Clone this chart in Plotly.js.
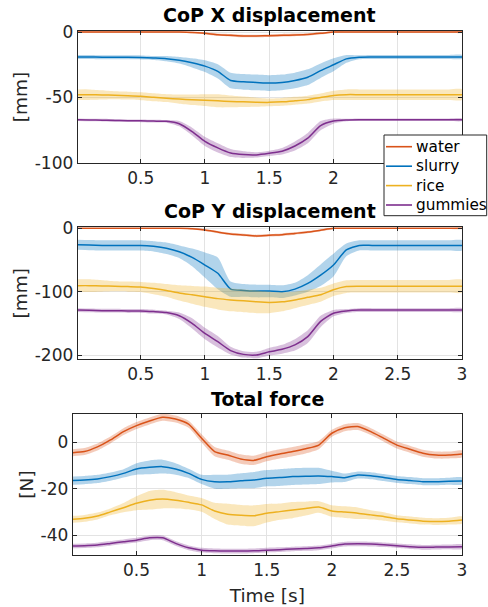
<!DOCTYPE html>
<html>
<head>
<meta charset="utf-8">
<script src="https://cdn.plot.ly/plotly-3.0.1.min.js"></script>
<style>html,body{margin:0;padding:0;background:#fff;}#chart{width:488px;height:607px;}</style>
</head>
<body>
<div id="chart"></div>
<script>
// ---------------- data ----------------
const time = [0.01,0.1,0.2,0.3,0.4,0.5,0.6,0.7,0.8,0.9,1.0,1.1,1.2,1.3,1.4,1.5,1.6,1.7,1.8,1.9,2.0,2.1,2.2,2.3,2.4,2.5,2.6,2.7,2.8,2.9,3.0];
const seriesNames = ['water','slurry','rice','gummies'];
const panelTitles = ['CoP X displacement','CoP Y displacement','Total force'];
const yUnits = ['[mm]','[mm]','[N]'];
const xTickVals = [0.5,1,1.5,2,2.5,3];
const xTickText = ['0.5','1','1.5','2','2.5','3'];
const yTickVals1 = [0,-50,-100];  const yTickText1 = ['0','-50','-100'];
const yTickVals2 = [0,-100,-200]; const yTickText2 = ['0','-100','-200'];
const yTickVals3 = [0,-20,-40];   const yTickText3 = ['0','-20','-40'];

// CoP X displacement (mean, band half-width)
const waterX    = [0,0,0,0,0,0,0,0,0,-0.3,-1,-2,-2.5,-3,-3,-2.8,-2.5,-2.2,-1.8,-1,0,0,0,0,0,0,0,0,0,0,0];
const waterXsd  = [0.6,0.6,0.6,0.6,0.6,0.6,0.6,0.6,0.6,0.7,0.8,0.9,1,1,1,1,1,1,0.9,0.8,0.7,0.6,0.6,0.6,0.6,0.6,0.6,0.6,0.6,0.6,0.6];
const slurryX   = [-19,-19,-19.2,-19.3,-19.3,-19.4,-19.8,-20.3,-21.5,-23.5,-26,-30,-37,-38,-38.5,-39,-38.5,-37,-34.5,-29.5,-25,-20.5,-19.2,-19,-19,-19,-19,-19,-19,-19,-19];
const slurryXsd = [1.5,1.5,1.5,1.5,1.5,1.5,1.5,2,2.5,3.5,4.5,5.5,6,6,6,6,6,6,6,5.5,5,3,1.5,1.5,1.5,1.5,1.5,1.5,1.5,1.5,1.5];
const riceX     = [-47.8,-47.8,-48,-48.3,-48.6,-49,-49.8,-50.5,-51.2,-51.7,-52,-52.5,-53,-53.3,-53.6,-53.7,-53.3,-52.5,-51.6,-50,-48.4,-47.8,-47.8,-47.8,-47.8,-47.8,-47.8,-47.8,-47.8,-47.8,-47.8];
const riceXsd   = [4,4,3.5,3,3,3,3,3,3.5,4,4.5,5,4.5,4,3.5,3,3,3,3,3,3.5,4,4,4,4,4,4,4,4,4,4];
const gumX      = [-67,-67.2,-67.3,-67.5,-67.7,-67.8,-68,-68.2,-70,-76,-83.5,-88.5,-92.4,-93.6,-93.8,-92.6,-91,-87,-81,-71.5,-68,-67.2,-67,-67,-67,-67,-67,-67,-67,-67,-67];
const gumXsd    = [1,1,1,1,1,1,1,1,2,3,3.5,3.5,3,2.5,2,2,2.5,3.5,4,3.5,2,1,1,1,1,1,1,1,1,1,1];

// CoP Y displacement
const waterY    = [0,0,0,0,0,0,0,0,0,-0.5,-2.6,-6,-9,-10.5,-12,-11,-10,-8,-6,-3,0,0,0,0,0,0,0,0,0,0,0];
const waterYsd  = [1.2,1.2,1.2,1.2,1.2,1.2,1.2,1.2,1.2,1.4,1.6,1.8,2,2,2,2,2,2,1.8,1.6,1.4,1.2,1.2,1.2,1.2,1.2,1.2,1.2,1.2,1.2,1.2];
const slurryY   = [-26,-26.5,-27,-27,-27,-27,-28.5,-31.5,-37,-46,-58,-71,-96,-98,-99,-99,-100,-96,-87,-74,-58,-34,-27,-27,-27,-27,-27,-27,-27,-27,-27];
const slurryYsd = [8,8,8,8,8,8,8,9,10,14,20,25,12,10,10,10,10,10,13,17,18,10,8,8,8,8,8,8,8,8,8];
const riceY     = [-90.5,-90.5,-91,-91.5,-92,-92.6,-95,-98,-102,-105,-108,-111,-113,-114.5,-116,-117,-116,-113,-109,-105,-97,-92,-91.5,-91.5,-91.5,-91.5,-91.5,-91.5,-91.5,-91.5,-91.5];
const riceYsd   = [10,10,9,8,8,8,9,10,12,14,16,17,18,18,18,17,15,13,12,11,10,10,10,10,10,10,10,10,10,10,10];
const gumY      = [-129,-129.5,-130,-130,-130.5,-130.5,-131.5,-133,-138,-150,-166,-179,-193,-199,-200,-195,-191,-184,-171,-147,-134,-130.5,-129,-129,-129,-129,-129,-129,-129,-129,-129];
const gumYsd    = [3,3,3,3,3,3,3,3,5,8,9,9,6,5,5,6,7,9,10,9,5,3,3,3,3,3,3,3,3,3,3];

// Total force
const waterF    = [-4.5,-4,-2,1,4.6,7.2,9.2,10.8,10,7.8,1.7,-4,-5.5,-7.2,-7.8,-6.2,-5,-4,-2.8,-1.2,3.9,6.3,6.8,4.6,1.7,-1.2,-3,-4.7,-5.5,-5.5,-5];
const waterFsd  = [1.5,1.5,1.5,1.5,1.5,1.5,1.5,1.5,1.5,1.5,1.8,2,2,2,2,2,2,2,2,1.8,1.5,1.5,1.5,1.5,1.5,1.5,1.5,1.5,1.5,1.5,1.5];
const slurryF   = [-16.5,-16.3,-15.8,-14.8,-13.4,-11.5,-10.8,-10.5,-11.5,-13.4,-16,-17,-17,-16.6,-16.3,-15.5,-15.2,-14.8,-14.6,-14.5,-14.8,-15.3,-14.1,-14.4,-15.2,-16,-16.5,-17,-17,-16.8,-16.7];
const slurryFsd = [1.8,1.8,1.8,1.8,1.8,2.5,3,3,2.5,2,2,3,3,3.2,3.5,3.5,3.6,3.6,3.6,3.5,2.5,1.8,1.5,1.5,1.5,1.5,1.5,1.5,1.5,1.5,1.5];
const riceF     = [-33.2,-32.8,-31.8,-30,-28.2,-26.3,-25,-24.5,-25,-25.9,-27,-29.6,-31,-31.5,-31.7,-30.6,-29.9,-29.2,-28.6,-27.9,-29.6,-30.1,-30.6,-31.3,-32,-33,-33.5,-34,-34.2,-34,-33.5];
const riceFsd   = [1.5,1.5,1.5,1.5,2,3,4,4,3.5,3,3,3.5,4.5,4.5,4.5,4,3.5,3.5,3,2.5,2.5,2.5,2.5,2,1.8,1.5,1.5,1.5,1.5,1.5,1.5];
const gumF      = [-44.7,-44.6,-44.3,-43.6,-42.9,-42.2,-41.2,-41.2,-43.6,-45.5,-46.5,-46.8,-46.9,-46.9,-46.8,-46.5,-46.3,-46,-45.8,-45.5,-44.7,-43.9,-43.8,-43.9,-44.2,-44.6,-45,-45.3,-45.2,-45.1,-45];
const gumFsd    = [1,1,1,1,1,1,1,1,1,1,1,1,1,1,1,1,1,1,1,1,1,1,1,1,1,1,1,1,1,1,1];

// ---------------- styling ----------------
const lineColors = ['#D95319','#0072BD','#EDB120','#7E2F8E'];
const bandColors = ['rgba(217,83,25,0.3)','rgba(0,114,189,0.3)','rgba(237,177,32,0.3)','rgba(126,47,142,0.3)'];
const FONT = 'DejaVu Sans, sans-serif';
const AX = '#262626';

const panels = [
  {means:[waterX,slurryX,riceX,gumX], sds:[waterXsd,slurryXsd,riceXsd,gumXsd]},
  {means:[waterY,slurryY,riceY,gumY], sds:[waterYsd,slurryYsd,riceYsd,gumYsd]},
  {means:[waterF,slurryF,riceF,gumF], sds:[waterFsd,slurryFsd,riceFsd,gumFsd]}
];

const traces = [];
panels.forEach((p, pi) => {
  const xa = pi === 0 ? 'x' : 'x' + (pi + 1);
  const ya = pi === 0 ? 'y' : 'y' + (pi + 1);
  p.means.forEach((m, si) => {
    const sd = p.sds[si];
    const upper = m.map((v, k) => v + sd[k]);
    const lower = m.map((v, k) => v - sd[k]);
    traces.push({
      x: time.concat(time.slice().reverse()),
      y: upper.concat(lower.slice().reverse()),
      type: 'scatter', mode: 'lines', fill: 'toself',
      fillcolor: bandColors[si], line: {width: 0, shape: 'spline', smoothing: 0.6},
      hoverinfo: 'skip', showlegend: false, xaxis: xa, yaxis: ya
    });
    traces.push({
      x: time, y: m, type: 'scatter', mode: 'lines', name: seriesNames[si],
      line: {color: lineColors[si], width: 1.5, shape: 'spline', smoothing: 0.6},
      showlegend: false, xaxis: xa, yaxis: ya
    });
  });
});

const W = 488, H = 607;
function px2x(px){ return px / W; }
function px2y(py){ return 1 - py / H; }

function xaxisDef(domain, showTitle){
  const d = {
    domain: domain, range: [0.01, 3],
    tickvals: xTickVals, ticktext: xTickText,
    ticks: 'inside', ticklen: 4, tickcolor: AX, tickwidth: 1,
    showline: true, linecolor: AX, linewidth: 1, mirror: 'ticks',
    showgrid: true, gridcolor: '#e3e3e3', gridwidth: 1, zeroline: false,
    tickfont: {family: FONT, size: 17, color: AX}, fixedrange: true, automargin: false
  };
  if (showTitle) d.title = {text: 'Time [s]', font: {family: FONT, size: 18.5, color: AX}, standoff: 9};
  return d;
}
function yaxisDef(domain, range, tv, tt, unit){
  return {
    domain: domain, range: range,
    tickvals: tv, ticktext: tt,
    ticks: 'inside', ticklen: 4, tickcolor: AX, tickwidth: 1,
    showline: true, linecolor: AX, linewidth: 1, mirror: 'ticks',
    showgrid: true, gridcolor: '#e3e3e3', gridwidth: 1, zeroline: false,
    tickfont: {family: FONT, size: 17, color: AX}, fixedrange: true, automargin: false,
    title: {text: unit, font: {family: FONT, size: 18.5, color: AX}, standoff: 2}
  };
}

const xd12 = [px2x(77.7), px2x(462)];
const xd3  = [px2x(72.7), px2x(462)];
const yd1 = [px2y(163), px2y(31)];
const yd2 = [px2y(359), px2y(227.3)];
const yd3 = [px2y(555), px2y(414)];

// legend (box, sample lines, labels) placed in paper coordinates
const legBox = {x0: 384, x1: 486.7, y0: 135, y1: 215.7};
const legRowY = [146.7, 166.2, 185.6, 205];
const shapes = [{
  type: 'rect', xref: 'paper', yref: 'paper', layer: 'above',
  x0: px2x(legBox.x0), x1: px2x(legBox.x1), y0: px2y(legBox.y1), y1: px2y(legBox.y0),
  fillcolor: '#fff', line: {color: AX, width: 1}
}];
const annotations = [
  {text: '<b>' + panelTitles[0] + '</b>', xref: 'paper', yref: 'paper', x: (xd12[0]+xd12[1])/2, y: px2y(15), xanchor: 'center', yanchor: 'middle', showarrow: false, font: {family: FONT, size: 19, color: '#000'}},
  {text: '<b>' + panelTitles[1] + '</b>', xref: 'paper', yref: 'paper', x: (xd12[0]+xd12[1])/2, y: px2y(211), xanchor: 'center', yanchor: 'middle', showarrow: false, font: {family: FONT, size: 19, color: '#000'}},
  {text: '<b>' + panelTitles[2] + '</b>', xref: 'paper', yref: 'paper', x: (xd3[0]+xd3[1])/2, y: px2y(399), xanchor: 'center', yanchor: 'middle', showarrow: false, font: {family: FONT, size: 19, color: '#000'}}
];
seriesNames.forEach((name, si) => {
  shapes.push({
    type: 'line', xref: 'paper', yref: 'paper', layer: 'above',
    x0: px2x(386), x1: px2x(412), y0: px2y(legRowY[si]), y1: px2y(legRowY[si]),
    line: {color: lineColors[si], width: 1.6}
  });
  annotations.push({
    text: name, xref: 'paper', yref: 'paper', x: px2x(414), y: px2y(legRowY[si]),
    xanchor: 'left', yanchor: 'middle', showarrow: false,
    font: {family: FONT, size: 15.3, color: '#000'}
  });
});

const layout = {
  width: W, height: H,
  margin: {l: 0, r: 0, t: 0, b: 0},
  paper_bgcolor: '#fff', plot_bgcolor: '#fff',
  font: {family: FONT, color: AX},
  showlegend: false,
  xaxis:  Object.assign(xaxisDef(xd12, false), {anchor: 'y'}),
  yaxis:  Object.assign(yaxisDef(yd1, [-100, 0.8], yTickVals1, yTickText1, yUnits[0]), {anchor: 'x'}),
  xaxis2: Object.assign(xaxisDef(xd12, false), {anchor: 'y2'}),
  yaxis2: Object.assign(yaxisDef(yd2, [-206.3, 1.6], yTickVals2, yTickText2, yUnits[1]), {anchor: 'x2'}),
  xaxis3: Object.assign(xaxisDef(xd3, true), {anchor: 'y3'}),
  yaxis3: Object.assign(yaxisDef(yd3, [-48.6, 12.2], yTickVals3, yTickText3, yUnits[2]), {anchor: 'x3'}),
  shapes: shapes,
  annotations: annotations
};

Plotly.newPlot('chart', traces, layout, {displayModeBar: false, staticPlot: true});
</script>
</body>
</html>
